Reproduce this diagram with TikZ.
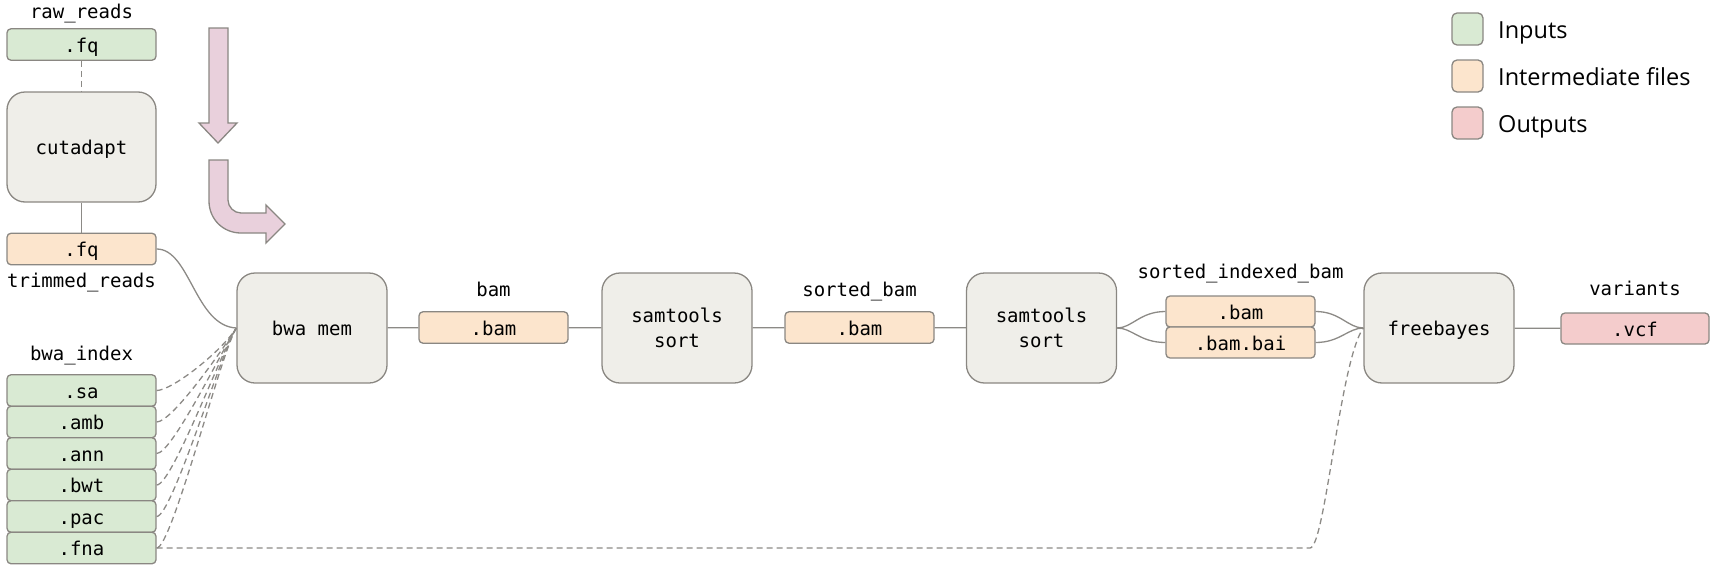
\documentclass[tikz,border=0pt]{standalone}
\usepackage{fontspec}
\setmonofont{DejaVu Sans Mono}
\newfontfamily\legendfont{Open Sans}
\definecolor{bordc}{RGB}{138,135,130}
\definecolor{linec}{RGB}{140,138,134}
\definecolor{inc}{RGB}{217,234,211}
\definecolor{midc}{RGB}{252,229,205}
\definecolor{outc}{RGB}{244,204,204}
\definecolor{toolc}{RGB}{239,238,233}
\definecolor{pinkc}{RGB}{233,208,220}
\tikzset{
  mono/.style={font=\ttfamily\fontsize{19}{25}\selectfont},
  filebox/.style={mono, draw=bordc, line width=1.3pt, rounded corners=4pt,
    minimum width=149pt, minimum height=31.5pt, inner sep=0pt,
    text height=16pt, text depth=1pt},
  toolbox/.style={mono, draw=bordc, fill=toolc, line width=1.3pt, rounded corners=18pt,
    minimum width=150pt, minimum height=110pt, inner sep=0pt, align=center,
    text depth=0pt},
  lbl/.style={mono, inner sep=0pt, anchor=base},
  conn/.style={draw=linec, line width=1.3pt},
  dconn/.style={conn, dash pattern=on 6pt off 4pt},
  legsq/.style={draw=bordc, line width=1.3pt, rounded corners=5pt,
    minimum width=31pt, minimum height=32pt, inner sep=0pt},
  legtxt/.style={font=\legendfont\fontsize{23.5}{28}\selectfont, anchor=base west, inner sep=0pt},
  bigarrow/.style={draw=bordc, fill=pinkc, line width=1.3pt, line join=miter},
}
\begin{document}
\begin{tikzpicture}[x=1pt,y=-1pt]
\useasboundingbox (0,0) rectangle (1716,573);

% inputs column
\node[lbl] (rawlbl) at (81.5,18.5) {raw\_reads};
\node[filebox, fill=inc] (rawfq) at (81.5,44.5) {.fq};
\node[toolbox, minimum width=149pt] (cutadapt) at (81.5,147) {cutadapt};
\node[filebox, fill=midc] (trimfq) at (81.5,249) {.fq};
\node[lbl] (trimlbl) at (81.5,287) {trimmed\_reads};

\node[lbl] (idxlbl) at (81.5,360) {bwa\_index};
\node[filebox, fill=inc] (sa)  at (81.5,390.5) {.sa};
\node[filebox, fill=inc] (amb) at (81.5,422) {.amb};
\node[filebox, fill=inc] (ann) at (81.5,453.5) {.ann};
\node[filebox, fill=inc] (bwt) at (81.5,485) {.bwt};
\node[filebox, fill=inc] (pac) at (81.5,516.5) {.pac};
\node[filebox, fill=inc] (fna) at (81.5,548) {.fna};

% pipeline
\node[toolbox] (bwamem) at (312,328) {bwa mem};
\node[lbl] (bamlbl) at (493.5,296.5) {bam};
\node[filebox, fill=midc] (bam) at (493.5,327.5) {.bam};
\node[toolbox] (sam1) at (677,328) {samtools\\sort};
\node[lbl] (sbamlbl) at (859.5,296.5) {sorted\_bam};
\node[filebox, fill=midc] (sbam) at (859.5,327.5) {.bam};
\node[toolbox] (sam2) at (1041.5,328) {samtools\\sort};
\node[lbl] (ilbl) at (1240.5,278) {sorted\_indexed\_bam};
\node[filebox, fill=midc, minimum height=31pt] (ibam) at (1240.5,311.5) {.bam};
\node[filebox, fill=midc, minimum height=31pt] (ibai) at (1240.5,342.5) {.bam.bai};
\node[toolbox] (freebayes) at (1439,328) {freebayes};
\node[lbl] (vlbl) at (1635,295) {variants};
\node[filebox, fill=outc, minimum width=148pt, minimum height=31pt] (vcf) at (1635,328.5) {.vcf};

% legend
\node[legsq, fill=inc] (legin) at (1467.5,29) {};
\node[legtxt] (legintxt) at (1498,38) {Inputs};
\node[legsq, fill=midc] (legmid) at (1467.5,76) {};
\node[legtxt] (legmidtxt) at (1498,85) {Intermediate files};
\node[legsq, fill=outc] (legout) at (1467.5,123) {};
\node[legtxt] (legouttxt) at (1498,132) {Outputs};

% big pink arrows
\draw[bigarrow] (209,28) -- (228,28) -- (228,123) -- (237,123) -- (218,143)
  -- (199,123) -- (209,123) -- cycle;
\draw[bigarrow] (209,160) -- (228,160) -- (228,200)
  .. controls (228,207) and (234,213) .. (241,213) -- (266,213) -- (266,205)
  -- (285,224) -- (266,243) -- (266,233) -- (241,233)
  .. controls (223,233) and (209,219) .. (209,201) -- cycle;

% connectors
\draw[dconn] (rawfq) -- (cutadapt);
\draw[conn] (cutadapt) -- (trimfq);
\draw[conn] (trimfq.east) .. controls (190,249) and (195,326) .. (bwamem.west);
\foreach \n/\yy in {sa/390.5, amb/422, ann/453.5, bwt/485, pac/516.5, fna/548}{
  \draw[dconn] (\n.east) .. controls (172,\yy) and (221,352) .. (bwamem.west);
}
\draw[dconn] (fna.east) -- (1310,548) .. controls (1325,548) and (1340,360) .. (freebayes.west);
\draw[conn] (bwamem) -- (bam);
\draw[conn] (bam) -- (sam1);
\draw[conn] (sam1) -- (sbam);
\draw[conn] (sbam) -- (sam2);
\draw[conn] (sam2.east) .. controls (1132,328) and (1140,311.5) .. (ibam.west);
\draw[conn] (sam2.east) .. controls (1132,328) and (1140,342.5) .. (ibai.west);
\draw[conn] (ibam.east) .. controls (1340,311.5) and (1348,328) .. (freebayes.west);
\draw[conn] (ibai.east) .. controls (1340,342.5) and (1348,328) .. (freebayes.west);
\draw[conn] (freebayes) -- (vcf);
\end{tikzpicture}
\end{document}
